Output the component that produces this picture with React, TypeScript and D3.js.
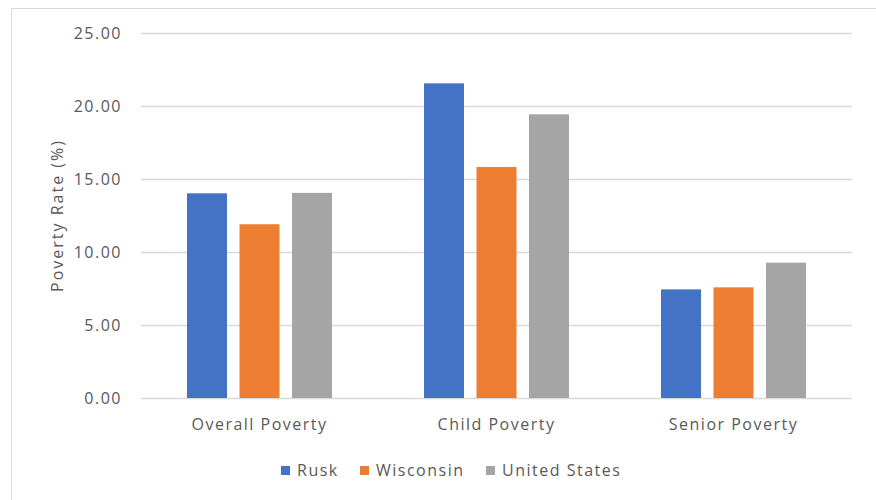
import { useEffect, useRef } from 'react';
import * as d3 from 'd3';

const categories = ['Overall Poverty', 'Child Poverty', 'Senior Poverty'];
const seriesNames = ['Rusk', 'Wisconsin', 'United States'];
const rusk = [14.02, 21.55, 7.44];
const wisconsin = [11.9, 15.82, 7.58];
const unitedStates = [14.05, 19.43, 9.27];
const yTicks = [0, 5, 10, 15, 20, 25];

const colors = ['#4472C4', '#ED7D31', '#A5A5A5'];

const App = () => {
  const svgRef = useRef<SVGSVGElement | null>(null);

  useEffect(() => {
    const width = 876;
    const height = 500;
    const margin = { top: 33, right: 24, bottom: 102, left: 141 };
    const values = [rusk, wisconsin, unitedStates];
    const font = '"Open Sans", "Noto Sans", sans-serif';
    const textColor = '#595959';
    const fontSize = '16px';
    const spacing = '1.5px';

    const svg = d3.select(svgRef.current);
    svg.selectAll('*').remove();
    svg.attr('width', width).attr('height', height);

    svg.append('rect')
      .attr('width', width).attr('height', height)
      .attr('fill', '#ffffff');

    // chart frame (runs off the right / bottom of the picture)
    svg.append('rect')
      .attr('x', 11.5).attr('y', 8.5)
      .attr('width', 1000).attr('height', 1000)
      .attr('fill', 'none')
      .attr('stroke', '#D9D9D9');

    const y = d3.scaleLinear()
      .domain([0, 25])
      .range([height - margin.bottom, margin.top]);

    const x0 = d3.scaleBand<string>()
      .domain(categories)
      .range([margin.left, width - margin.right]);

    const groupWidth = 145;
    const x1 = d3.scaleBand<string>()
      .domain(seriesNames)
      .range([0, groupWidth])
      .paddingInner(0.238);

    // gridlines
    svg.append('g')
      .selectAll('line')
      .data(yTicks)
      .enter()
      .append('line')
      .attr('x1', margin.left)
      .attr('x2', width - margin.right)
      .attr('y1', d => Math.round(y(d)) + 0.5)
      .attr('y2', d => Math.round(y(d)) + 0.5)
      .attr('stroke', '#D9D9D9')
      .attr('stroke-width', 1.3);

    // y tick labels
    svg.append('g')
      .selectAll('text')
      .data(yTicks)
      .enter()
      .append('text')
      .attr('x', 122)
      .attr('y', d => y(d))
      .attr('dy', '0.35em')
      .attr('text-anchor', 'end')
      .style('font-family', font)
      .style('font-size', fontSize)
      .style('letter-spacing', spacing)
      .style('fill', textColor)
      .text(d => d.toFixed(2));

    // bars
    categories.forEach((cat, ci) => {
      const gx = (x0(cat) ?? 0) + (x0.bandwidth() - groupWidth) / 2;
      const g = svg.append('g').attr('transform', `translate(${gx},0)`);
      g.selectAll('rect')
        .data(seriesNames)
        .enter()
        .append('rect')
        .attr('x', s => x1(s) ?? 0)
        .attr('width', x1.bandwidth())
        .attr('y', (_, si) => y(values[si][ci]))
        .attr('height', (_, si) => y(0) - y(values[si][ci]))
        .attr('fill', (_, si) => colors[si]);
    });

    // category labels
    svg.append('g')
      .selectAll('text')
      .data(categories)
      .enter()
      .append('text')
      .attr('x', d => (x0(d) ?? 0) + x0.bandwidth() / 2)
      .attr('y', 424)
      .attr('dy', '0.35em')
      .attr('text-anchor', 'middle')
      .style('font-family', font)
      .style('font-size', fontSize)
      .style('letter-spacing', spacing)
      .style('fill', textColor)
      .text(d => d);

    // y axis title
    svg.append('text')
      .attr('transform', `translate(57, ${(y(0) + y(25)) / 2}) rotate(-90)`)
      .attr('dy', '0.35em')
      .attr('text-anchor', 'middle')
      .style('font-family', font)
      .style('font-size', fontSize)
      .style('letter-spacing', '2px')
      .style('fill', textColor)
      .text('Poverty Rate (%)');

    // legend
    const legendX = [281, 360, 486];
    const legend = svg.append('g');
    seriesNames.forEach((name, i) => {
      const row = legend.append('g')
        .attr('transform', `translate(${legendX[i]}, 466)`);
      row.append('rect')
        .attr('width', 9)
        .attr('height', 9)
        .attr('fill', colors[i]);
      row.append('text')
        .attr('x', 16)
        .attr('y', 4.5)
        .attr('dy', '0.35em')
        .style('font-family', font)
        .style('font-size', fontSize)
        .style('letter-spacing', spacing)
        .style('fill', textColor)
        .text(name);
    });
  }, []);

  return (
    <svg
      ref={svgRef}
      style={{ position: 'absolute', left: 0, top: 0, display: 'block' }}
    ></svg>
  );
};

export default App;
